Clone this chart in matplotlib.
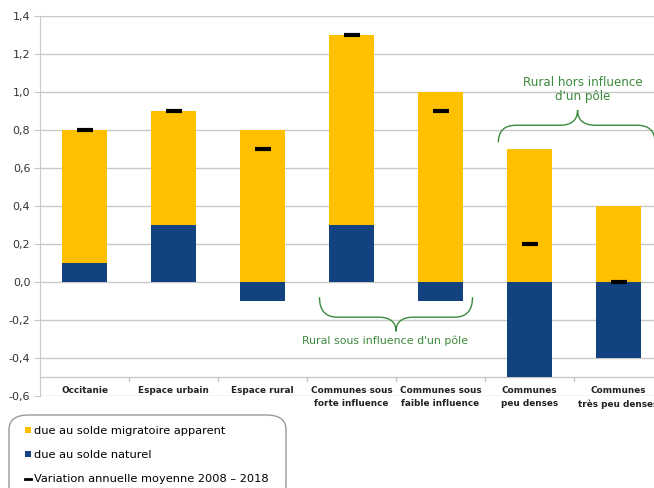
import numpy as np
import matplotlib.pyplot as plt
from matplotlib.path import Path
from matplotlib.patches import PathPatch, Patch, FancyBboxPatch
from matplotlib.lines import Line2D
from matplotlib.ticker import FuncFormatter

plt.rcParams['font.family'] = ['DejaVu Sans']

categories = ['Occitanie', 'Espace urbain', 'Espace rural', 'Communes sous\nforte influence',
              'Communes sous\nfaible influence', 'Communes\npeu denses', 'Communes\ntrès peu denses']
solde_naturel = [0.1, 0.3, -0.1, 0.3, -0.1, -0.5, -0.4]
solde_migratoire = [0.7, 0.6, 0.8, 1.0, 1.0, 0.7, 0.4]
variation = [0.8, 0.9, 0.7, 1.3, 0.9, 0.2, 0.0]
legend_labels = ['due au solde migratoire apparent', 'due au solde naturel',
                 'Variation annuelle moyenne 2008 – 2018']

yellow = '#ffc000'
blue = '#124280'
green = '#3b8a3b'
grid_col = '#c8c8c8'

fig = plt.figure(figsize=(6.54, 4.88), dpi=100)
ax = fig.add_axes([40 / 654, 92 / 488, 623 / 654, 380 / 488])

x = np.arange(len(categories))
nat = np.array(solde_naturel)
mig = np.array(solde_migratoire)
mig_bottom = np.where(nat > 0, nat, 0)

ax.bar(x, nat, width=0.5, color=blue, zorder=3)
ax.bar(x, mig, width=0.5, bottom=mig_bottom, color=yellow, zorder=3)
ax.plot(x, variation, ls='none', marker='_', ms=11, mew=3, color='black', zorder=4)

ax.set_xlim(-0.5, 6.5)
ax.set_ylim(-0.6, 1.4)
ax.set_yticks(np.arange(-0.6, 1.41, 0.2))
ax.yaxis.set_major_formatter(FuncFormatter(lambda v, p: f'{v:.1f}'.replace('.', ',').replace('-0,0', '0,0')))
ax.tick_params(axis='y', length=4, color=grid_col, labelsize=8, labelcolor='#333333', pad=3)
ax.grid(axis='y', color=grid_col, lw=1, zorder=0)
ax.set_xticks([])
for s in ['top', 'right', 'bottom']:
    ax.spines[s].set_visible(False)
ax.spines['left'].set_color(grid_col)

# category axis at -0.5
ax.axhline(-0.5, color=grid_col, lw=1, zorder=1)
for b in np.arange(0.5, 6.5, 1):
    ax.plot([b, b], [-0.5, -0.52], color=grid_col, lw=1, clip_on=False)
for i, lab in enumerate(categories):
    ax.text(i, -0.548, lab, ha='center', va='top', fontsize=6.4, fontweight='bold',
            color='#222222', linespacing=1.6)


def brace(x0, x1, xc, y_tip, y_mid, y_pt):
    verts = [(x0, y_tip), (x0, y_mid), (x0 + 0.2, y_mid),
             (xc - 0.2, y_mid), (xc, y_mid), (xc, y_pt),
             (xc, y_mid), (xc + 0.2, y_mid),
             (x1 - 0.2, y_mid), (x1, y_mid), (x1, y_tip)]
    codes = [Path.MOVETO, Path.CURVE3, Path.CURVE3,
             Path.LINETO, Path.CURVE3, Path.CURVE3,
             Path.CURVE3, Path.CURVE3,
             Path.LINETO, Path.CURVE3, Path.CURVE3]
    ax.add_patch(PathPatch(Path(verts, codes), fill=False, edgecolor=green, lw=1, zorder=5,
                           clip_on=False))


brace(2.64, 4.36, 3.5, -0.08, -0.185, -0.26)
ax.text(3.38, -0.31, "Rural sous influence d'un pôle", ha='center', va='center',
        fontsize=7.9, color=green)
brace(4.65, 6.41, 5.54, 0.735, 0.825, 0.905)
ax.text(5.6, 1.012, "Rural hors influence\nd'un pôle", ha='center', va='center',
        fontsize=8.6, color=green, linespacing=1.15)

# legend box
fig.patches.append(FancyBboxPatch((9 / 654, -12 / 488), 277 / 654, 85 / 488,
                                  boxstyle='round,pad=0,rounding_size=0.03',
                                  transform=fig.transFigure, facecolor='white',
                                  edgecolor='#999999', lw=1))
handles = [Patch(facecolor=yellow), Patch(facecolor=blue),
           Line2D([], [], color='black', lw=2)]
leg = fig.legend(handles, legend_labels, loc='upper left',
                 bbox_to_anchor=(25 / 654, 1 - 426 / 488), frameon=False,
                 fontsize=8.2, handlelength=0.5, handleheight=0.5, handletextpad=0.3,
                 labelspacing=1.25, borderaxespad=0, borderpad=0)

fig.savefig('out.png', dpi=100)
